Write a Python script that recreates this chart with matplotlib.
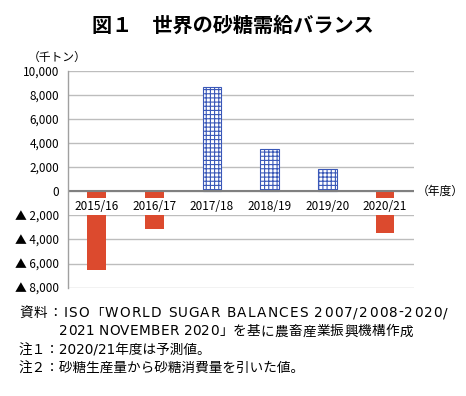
import matplotlib.pyplot as plt
from matplotlib.patches import Rectangle

plt.rcParams['font.family'] = ['Noto Sans CJK JP', 'DejaVu Sans']
plt.rcParams['hatch.color'] = '#3A58B8'
plt.rcParams['hatch.linewidth'] = 0.8

# data (千トン)
years = ['2015/16', '2016/17', '2017/18', '2018/19', '2019/20', '2020/21']
balance = [-6500, -3100, 8650, 3540, 1880, -3500]
yticks = [10000, 8000, 6000, 4000, 2000, 0, -2000, -4000, -6000, -8000]
ytick_labels = ['10,000', '8,000', '6,000', '4,000', '2,000', '0',
                '▲ 2,000', '▲ 4,000', '▲ 6,000', '▲ 8,000']

W, H = 466, 396
fig = plt.figure(figsize=(W / 100, H / 100), dpi=100)
ax = fig.add_axes([0.1453, 0.2735, 0.743, 0.548])

x = [i + 0.5 for i in range(len(years))]
for xi, v in zip(x, balance):
    if v >= 0:
        ax.bar(xi, v, width=0.32, color='white', edgecolor='#3A58B8',
               hatch='++++', linewidth=0.8, zorder=2)
    else:
        ax.bar(xi, v, width=0.32, color='#DC4A2E', linewidth=0, zorder=2)

ax.set_xlim(0, 6)
ax.set_ylim(-8000, 10000)
ax.set_yticks(yticks)
ax.set_yticklabels(ytick_labels, fontsize=8.5)
ax.set_xticks([])
ax.tick_params(axis='y', length=0, pad=6)
ax.yaxis.grid(True, color='#BDBDBD', linewidth=1.0)
ax.set_axisbelow(True)
for s in ['top', 'right', 'bottom']:
    ax.spines[s].set_visible(False)
ax.spines['left'].set_color('#A0A0A0')
ax.spines['left'].set_linewidth(1.0)

# white band behind the category labels
ax.add_patch(Rectangle((0.003, -1950), 6, 1350, facecolor='white',
                       edgecolor='none', zorder=2.2))
for xi, lab in zip(x, years):
    ax.text(xi, -1270, lab, ha='center', va='center', fontsize=8.5, zorder=3)

ax.axhline(0, color='#808080', linewidth=1.5, zorder=2.4)

fig.text(0.5, 0.935, '図１　世界の砂糖需給バランス', ha='center', va='center',
         fontsize=14.5, fontweight='bold')
fig.text(0.06, 0.855, '（千トン）', ha='left', va='center', fontsize=8.5)
fig.text(0.895, 0.516, '（年度）', ha='left', va='center', fontsize=8.5)


def spread_text(x0, x1, y, s, **kw):
    # place characters one by one so the line spans x0..x1 pixels
    r = fig.canvas.get_renderer()
    ts, ws = [], []
    for c in s:
        t = fig.text(0, y, c, ha='left', va='center', **kw)
        if c == ' ':
            w = t.get_fontsize() * 0.318 * 100 / 72
        else:
            w = t.get_window_extent(r).width
        ts.append(t)
        ws.append(w)
    gap = (x1 - x0 - sum(ws)) / (len(s) - 1)
    pos = x0
    for t, w in zip(ts, ws):
        t.set_x(pos / W)
        pos += w + gap


note_kw = dict(fontsize=9.8, family=['DejaVu Sans', 'Noto Sans CJK JP'])
spread_text(19, 448, 0.209, '資料：ISO「WORLD SUGAR BALANCES 2007/2008-2020/', **note_kw)
spread_text(59, 413, 0.163, '2021 NOVEMBER 2020」を基に農畜産業振興機構作成', **note_kw)
fig.text(0.04, 0.116, '注１：2020/21年度は予測値。', ha='left', va='center', **note_kw)
fig.text(0.04, 0.068, '注２：砂糖生産量から砂糖消費量を引いた値。', ha='left', va='center', **note_kw)

fig.savefig('out.png', dpi=100)
